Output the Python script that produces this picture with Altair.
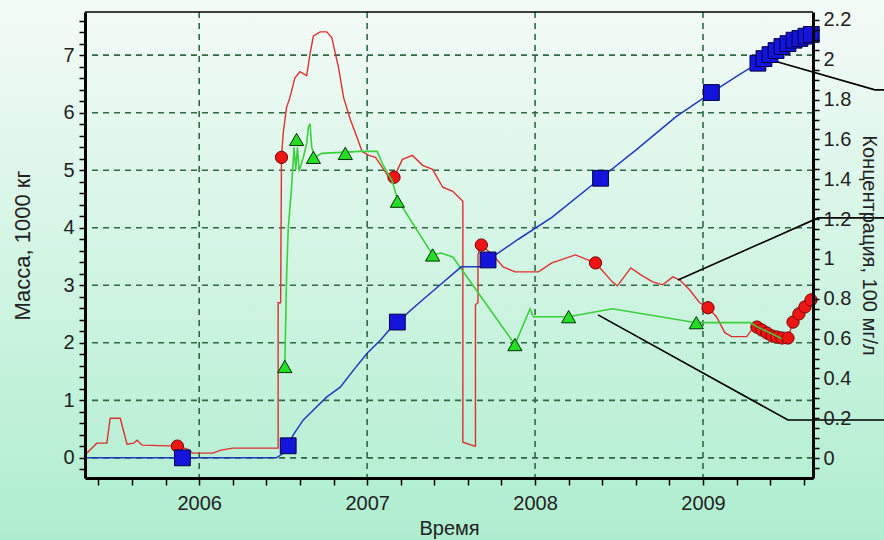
import altair as alt
import pandas as pd

# ---------------- mass of substance, 1000 kg (left axis) ----------------
mass_line_t = [2005.32, 2006.46, 2006.50, 2006.53, 2006.56, 2006.62, 2006.70, 2006.76,
               2006.84, 2006.92, 2007.00, 2007.08, 2007.13, 2007.18, 2007.30, 2007.42,
               2007.56, 2007.68, 2007.72, 2007.90, 2008.10, 2008.39, 2008.60, 2008.84,
               2009.05, 2009.20, 2009.327, 2009.363, 2009.399, 2009.435, 2009.470,
               2009.506, 2009.542, 2009.577, 2009.613, 2009.645]
mass_line_v = [0, 0, 0.08, 0.21, 0.40, 0.66, 0.89, 1.06,
               1.23, 1.53, 1.82, 2.05, 2.22, 2.36, 2.67, 2.97,
               3.32, 3.32, 3.44, 3.80, 4.18, 4.86, 5.35, 5.93,
               6.35, 6.63, 6.86, 6.94, 7.01, 7.08, 7.15,
               7.20, 7.26, 7.29, 7.33, 7.36]
mass_pts_t = [2005.90, 2006.53, 2007.18, 2007.72, 2008.39, 2009.05,
              2009.327, 2009.363, 2009.399, 2009.435, 2009.470,
              2009.506, 2009.542, 2009.577, 2009.613, 2009.645]
mass_pts_v = [0, 0.21, 2.36, 3.44, 4.86, 6.35,
              6.86, 6.94, 7.01, 7.08, 7.15,
              7.20, 7.26, 7.29, 7.33, 7.36]

# ---------------- concentration, 100 mg/l (right axis) ----------------
red_line_t = [2005.32, 2005.39, 2005.45, 2005.47, 2005.53, 2005.57, 2005.61, 2005.63,
              2005.66, 2005.87, 2005.93, 2005.96, 2006.08, 2006.13, 2006.20, 2006.47,
              2006.47, 2006.485, 2006.49, 2006.50, 2006.52, 2006.54, 2006.57, 2006.60,
              2006.64, 2006.66, 2006.68, 2006.72, 2006.76, 2006.79, 2006.83, 2006.86,
              2006.90, 2006.94, 2006.97, 2007.01, 2007.05, 2007.09, 2007.13, 2007.16,
              2007.21, 2007.27, 2007.33, 2007.39, 2007.45, 2007.51, 2007.57, 2007.57,
              2007.64, 2007.645, 2007.645, 2007.66, 2007.66, 2007.68, 2007.76, 2007.81,
              2007.88, 2008.02, 2008.10, 2008.24, 2008.36, 2008.46, 2008.49, 2008.57,
              2008.63, 2008.70, 2008.76, 2008.82, 2008.86, 2008.92, 2008.98, 2009.03,
              2009.08, 2009.13, 2009.17, 2009.26, 2009.30,
              2009.321, 2009.351, 2009.381, 2009.411, 2009.440, 2009.470,
              2009.506, 2009.536, 2009.571, 2009.607, 2009.643]
red_line_v = [0.015, 0.075, 0.075, 0.20, 0.20, 0.07, 0.075, 0.09,
              0.065, 0.06, 0.045, 0.025, 0.025, 0.04, 0.05, 0.05,
              0.78, 0.78, 1.51, 1.63, 1.76, 1.81, 1.91, 1.94,
              1.92, 2.03, 2.12, 2.14, 2.14, 2.11, 1.96, 1.81,
              1.70, 1.61, 1.54, 1.52, 1.51, 1.46, 1.41, 1.41,
              1.50, 1.52, 1.47, 1.45, 1.36, 1.34, 1.29, 0.08,
              0.06, 0.06, 0.77, 0.78, 1.02, 1.07, 1.01, 0.96,
              0.935, 0.935, 0.98, 1.02, 0.98, 0.885, 0.865, 0.955,
              0.92, 0.885, 0.87, 0.91, 0.895, 0.845, 0.78, 0.755,
              0.71, 0.63, 0.61, 0.61, 0.655,
              0.658, 0.643, 0.628, 0.613, 0.608, 0.603,
              0.603, 0.683, 0.724, 0.759, 0.794]
red_pts_t = [2005.87, 2006.49, 2007.16, 2007.68, 2008.36, 2009.03,
             2009.321, 2009.351, 2009.381, 2009.411, 2009.440, 2009.470,
             2009.506, 2009.536, 2009.571, 2009.607, 2009.643]
red_pts_v = [0.06, 1.51, 1.41, 1.07, 0.98, 0.755,
             0.658, 0.643, 0.628, 0.613, 0.608, 0.603,
             0.603, 0.683, 0.724, 0.759, 0.794]

green_line_t = [2006.51, 2006.52, 2006.53, 2006.55, 2006.565, 2006.575, 2006.585, 2006.595,
                2006.62, 2006.64, 2006.65, 2006.66, 2006.67, 2006.69, 2006.73, 2006.96,
                2007.06, 2007.09, 2007.15, 2007.18, 2007.39, 2007.44, 2007.51, 2007.88,
                2007.97, 2007.99, 2008.20, 2008.46, 2008.96, 2009.28, 2009.32, 2009.47]
green_line_v = [0.46, 0.90, 1.15, 1.36, 1.56, 1.45, 1.56, 1.44,
                1.51, 1.58, 1.66, 1.68, 1.56, 1.51, 1.53, 1.54,
                1.54, 1.48, 1.39, 1.30, 1.02, 1.03, 1.01, 0.57,
                0.75, 0.71, 0.71, 0.75, 0.68, 0.68, 0.66, 0.60]
green_pts_t = [2006.51, 2006.58, 2006.68, 2006.87, 2007.18, 2007.39, 2007.88, 2008.20, 2008.96]
green_pts_v = [0.46, 1.60, 1.51, 1.53, 1.29, 1.02, 0.57, 0.71, 0.68]

# leader lines running out to the right-hand side
callout_id = ["a", "a", "a", "b", "b", "b", "c", "c", "c"]
callout_t = [2009.399, 2010.024, 2010.12, 2008.851, 2009.685, 2010.12, 2008.375, 2009.506, 2010.12]
callout_v = [2.0, 1.849, 1.849, 0.894, 1.206, 1.206, 0.719, 0.191, 0.191]

# ---------------- axes ----------------
x_domain = [2005.32, 2009.655]
mass_domain = [-0.35, 7.75]
conc_domain = [-0.1, 2.24]
grid_years = [2006, 2007, 2008, 2009]
grid_mass = [0, 1, 2, 3, 4, 5, 6, 7]
x_ticks = [round(2005.4 + 0.2 * i, 1) for i in range(22)]
mass_ticks = [round(-0.2 + 0.2 * i, 1) for i in range(40)]
conc_ticks = [round(-0.05 + 0.05 * i, 2) for i in range(46)]

W, H = 728, 466
PAD = {"left": 85, "top": 12, "right": 71, "bottom": 62}
FONT = "Liberation Sans"
TEXT = "#222222"
GRID = "#2f6a42"


def frame(t, v):
    return pd.DataFrame({"t": t, "v": v, "i": list(range(len(t)))})


one_row = pd.DataFrame({"k": [0]})

int_test = "abs(datum.value - round(datum.value)) < 0.001"
fifth_test = "abs(datum.value * 5 - round(datum.value * 5)) < 0.001"

common = dict(
    grid=False, domainColor="black", domainWidth=3, tickColor="black", tickWidth=1.5,
    labelFont=FONT, labelFontSize=20, labelColor=TEXT, labelOverlap=False, labelFlush=False,
    titleFont=FONT, titleFontWeight="normal", titleColor=TEXT, zindex=1,
)

x_axis = alt.Axis(
    values=x_ticks, title="Время", orient="bottom",
    labelExpr=f"{int_test} ? format(datum.value, 'd') : ''",
    tickSize=7, labelPadding=8, titlePadding=5, titleFontSize=20, **common,
)
mass_axis = alt.Axis(
    values=mass_ticks, title="Масса, 1000 кг", orient="left",
    labelExpr=f"{int_test} ? format(datum.value, 'd') : ''",
    tickSize=6, labelPadding=5, titlePadding=28, titleFontSize=22, **common,
)
conc_axis = alt.Axis(
    values=conc_ticks, title="Концентрация, 100 мг/л", orient="right",
    labelExpr=f"{fifth_test} && datum.value >= 0 ? format(datum.value, '~g') : ''",
    tickSize=6, labelPadding=4, titlePadding=8, titleFontSize=20, **common,
)

x_scale = alt.Scale(domain=x_domain, nice=False, zero=False)
mass_scale = alt.Scale(domain=mass_domain, nice=False, zero=False)
conc_scale = alt.Scale(domain=conc_domain, nice=False, zero=False)

# every layer carries the same x definition so the shared axis merges cleanly
X = alt.X("t:Q", scale=x_scale, axis=x_axis)
Y_MASS = alt.Y("v:Q", scale=mass_scale, axis=mass_axis)
Y_CONC = alt.Y("v:Q", scale=conc_scale, axis=conc_axis)

# soft pale-to-mint backdrop behind the whole figure
backdrop = alt.Chart(one_row).mark_rect(
    color=alt.Gradient(
        gradient="linear",
        stops=[alt.GradientStop(color="#f4fbf7", offset=0),
               alt.GradientStop(color="#aeeecf", offset=1)],
        x1=0, x2=0, y1=0, y2=1,
    )
).encode(
    x=alt.value(-PAD["left"]), x2=alt.value(W + PAD["right"]),
    y=alt.value(-PAD["top"]), y2=alt.value(H + PAD["bottom"]),
)

grid_v = alt.Chart(pd.DataFrame({"t": grid_years})).mark_rule(
    color=GRID, strokeDash=[6, 5], strokeWidth=1.6
).encode(x=X)

grid_h = alt.Chart(pd.DataFrame({"v": grid_mass})).mark_rule(
    color=GRID, strokeDash=[6, 5], strokeWidth=1.6
).encode(y=alt.Y("v:Q", scale=mass_scale, axis=None))

red_line = alt.Chart(frame(red_line_t, red_line_v)).mark_line(
    color="#dd3030", strokeWidth=1.4
).encode(x=X, y=Y_CONC, order="i:Q")
red_pts = alt.Chart(frame(red_pts_t, red_pts_v)).mark_point(
    shape="circle", filled=True, fill="#ee1515", stroke="#7a0000", strokeWidth=1,
    size=150, opacity=1
).encode(x=X, y=Y_CONC)

green_line = alt.Chart(frame(green_line_t, green_line_v)).mark_line(
    color="#3ad03a", strokeWidth=1.6
).encode(x=X, y=Y_CONC, order="i:Q")
green_pts = alt.Chart(frame(green_pts_t, green_pts_v)).mark_point(
    shape="triangle-up", filled=True, fill="#25dd25", stroke="#003300", strokeWidth=1,
    size=200, opacity=1
).encode(x=X, y=Y_CONC)

callouts = alt.Chart(
    pd.DataFrame({"id": callout_id, "t": callout_t, "v": callout_v,
                  "i": list(range(len(callout_t)))})
).mark_line(color="black", strokeWidth=1.6).encode(
    x=X, y=Y_CONC, detail="id:N", order="i:Q"
)

blue_line = alt.Chart(frame(mass_line_t, mass_line_v)).mark_line(
    color="#2038c0", strokeWidth=1.5
).encode(x=X, y=Y_MASS, order="i:Q")
blue_pts = alt.Chart(frame(mass_pts_t, mass_pts_v)).mark_point(
    shape="square", filled=True, fill="#1414dc", stroke="#000040", strokeWidth=1,
    size=250, opacity=1
).encode(x=X, y=Y_MASS)

top_border = alt.Chart(one_row).mark_rule(color="black", strokeWidth=1.5).encode(
    x=alt.value(0), x2=alt.value(W), y=alt.value(0)
)

concentration = alt.layer(red_line, red_pts, green_line, green_pts, callouts)
mass = alt.layer(blue_line, blue_pts)

chart = alt.layer(
    backdrop, grid_v, grid_h, concentration, mass, top_border
).resolve_scale(
    y="independent"
).properties(
    width=W, height=H, padding=PAD,
    autosize=alt.AutoSizeParams(type="none"),
    background="#e4f7ec",
).configure_view(stroke="transparent")

chart.save("out.html", embed_options={"renderer": "svg", "actions": False})
